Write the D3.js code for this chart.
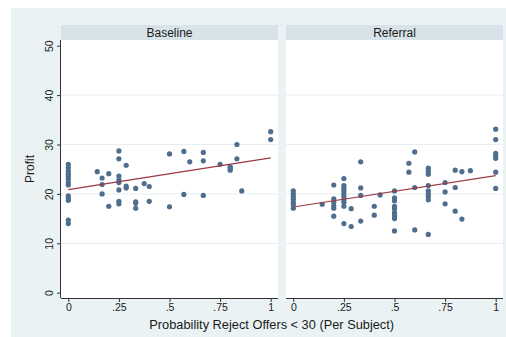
<!DOCTYPE html>
<html>
<head>
<meta charset="utf-8">
<script src="https://cdn.jsdelivr.net/npm/d3@7"></script>
<style>
  html, body { margin: 0; padding: 0; background: #ffffff; }
  svg { display: block; }
  text { font-family: "Liberation Sans", Arial, sans-serif; fill: #1a1a1a; }
</style>
</head>
<body>
<svg id="chart" width="506" height="337"></svg>
<script>
// Panels (one per treatment group)
const panels = ["Baseline", "Referral"];

// Baseline: share of offers < 30 rejected (x) and profit (y), one pair per subject
const baselineX = [
  0, 0, 0, 0, 0, 0, 0, 0, 0, 0, 0, 0, 0,
  0.143,
  0.167, 0.167, 0.167,
  0.2, 0.2,
  0.25, 0.25, 0.25, 0.25, 0.25, 0.25, 0.25, 0.25,
  0.286, 0.286, 0.286,
  0.333, 0.333, 0.333, 0.333,
  0.375,
  0.4, 0.4,
  0.5, 0.5,
  0.571, 0.571,
  0.6,
  0.667, 0.667, 0.667,
  0.75,
  0.8, 0.8, 0.8,
  0.833, 0.833,
  0.857,
  1, 1
];
const baselineProfit = [
  26.0, 25.3, 24.6, 24.0, 23.5, 23.0, 22.3, 21.8, 19.6, 19.1, 18.7, 14.7, 14.0,
  24.5,
  23.2, 21.9, 20.0,
  24.1, 17.5,
  28.7, 27.1, 23.6, 22.8, 22.3, 20.8, 18.5, 18.0,
  25.8, 21.6, 21.2,
  21.1, 18.4, 18.1, 17.1,
  22.1,
  21.5, 18.5,
  28.1, 17.4,
  28.6, 19.9,
  26.5,
  28.4, 26.7, 19.7,
  26.0,
  25.5, 25.2, 24.8,
  30.0, 27.1,
  20.6,
  32.6, 31.0
];

// Referral group
const referralX = [
  0, 0, 0, 0, 0, 0, 0,
  0.143,
  0.2, 0.2, 0.2, 0.2, 0.2, 0.2,
  0.25, 0.25, 0.25, 0.25, 0.25, 0.25, 0.25, 0.25, 0.25, 0.25,
  0.286, 0.286,
  0.333, 0.333, 0.333, 0.333,
  0.4, 0.4,
  0.429,
  0.5, 0.5, 0.5, 0.5, 0.5, 0.5, 0.5, 0.5, 0.5,
  0.571, 0.571,
  0.6, 0.6, 0.6,
  0.667, 0.667, 0.667, 0.667, 0.667, 0.667, 0.667, 0.667, 0.667,
  0.75, 0.75, 0.75,
  0.8, 0.8, 0.8,
  0.833, 0.833,
  0.875,
  1, 1, 1, 1, 1, 1, 1
];
const referralProfit = [
  20.6, 20.0, 19.4, 18.9, 18.3, 17.8, 17.1,
  17.9,
  21.8, 19.0, 18.3, 17.6, 17.1, 15.5,
  23.1, 21.7, 21.1, 20.6, 20.0, 19.4, 18.8, 18.3, 17.5, 14.0,
  17.0, 13.4,
  26.5, 21.2, 19.7, 14.5,
  17.5, 15.7,
  19.8,
  20.6, 19.2, 18.6, 17.5, 17.0, 16.2, 15.6, 15.0, 12.5,
  26.2, 24.4,
  28.5, 21.3, 12.7,
  25.2, 24.6, 24.0, 21.7, 20.6, 20.0, 19.5, 18.8, 11.8,
  22.3, 20.4, 18.0,
  24.8, 21.3, 16.5,
  24.5, 14.9,
  24.7,
  33.1, 31.0, 28.2, 27.7, 27.2, 24.4, 21.1
];

// Fitted linear trend per panel: predicted profit at x = 0 and x = 1
const fitAtZero = [20.85, 17.35];
const fitAtOne = [27.3, 23.7];

// Axis ticks
const xTicks = [0, 0.25, 0.5, 0.75, 1];
const xTickLabels = ["0", ".25", ".5", ".75", "1"];
const yTicks = [0, 10, 20, 30, 40, 50];
const gridTicks = [10, 20, 30, 40];

// ---- layout ----
const svg = d3.select("#chart");
const colors = {
  outer: "#eaf2f3",
  strip: "#d7e3e8",
  grid: "#e6eef1",
  marker: "#4f6d8e",
  fit: "#9c3a43",
  axis: "#333333"
};

const panelLeft = [61, 286];
const panelWidth = 217;
const plotTop = 40;
const plotBottom = 298;
const stripTop = 25;

svg.append("rect")
  .attr("x", 11).attr("y", 8)
  .attr("width", 495).attr("height", 329)
  .attr("fill", colors.outer);

const y = d3.scaleLinear().domain([0, 50]).range([292.7, 45.7]);

const groups = [
  { x: baselineX, p: baselineProfit },
  { x: referralX, p: referralProfit }
];

panels.forEach((name, i) => {
  const left = panelLeft[i];
  const x = d3.scaleLinear().domain([0, 1]).range([left + 7.3, left + panelWidth - 7.3]);

  // title strip
  svg.append("rect")
    .attr("x", left).attr("y", stripTop)
    .attr("width", panelWidth).attr("height", plotTop - stripTop)
    .attr("fill", colors.strip);
  svg.append("text")
    .attr("x", left + panelWidth / 2).attr("y", stripTop + 7.5)
    .attr("dy", "0.35em")
    .attr("text-anchor", "middle")
    .attr("font-size", 12)
    .text(name);

  // plot region
  svg.append("rect")
    .attr("x", left).attr("y", plotTop)
    .attr("width", panelWidth).attr("height", plotBottom - plotTop)
    .attr("fill", "#ffffff");

  // horizontal grid
  svg.append("g")
    .selectAll("line")
    .data(gridTicks)
    .join("line")
    .attr("x1", left).attr("x2", left + panelWidth)
    .attr("y1", d => y(d)).attr("y2", d => y(d))
    .attr("stroke", colors.grid)
    .attr("stroke-width", 1);

  // x axis
  const xAxis = d3.axisBottom(x)
    .tickValues(xTicks)
    .tickFormat((d, k) => xTickLabels[k])
    .tickSize(4)
    .tickSizeOuter(0)
    .tickPadding(2);
  const gx = svg.append("g")
    .attr("transform", `translate(0,${plotBottom})`)
    .call(xAxis);
  gx.select(".domain")
    .attr("d", `M${left},0.5H${left + panelWidth}`)
    .attr("stroke", colors.axis);
  gx.selectAll(".tick line").attr("stroke", colors.axis);
  gx.selectAll(".tick text")
    .attr("font-family", "Liberation Sans, Arial, sans-serif")
    .attr("font-size", 10.5)
    .attr("fill", "#1a1a1a");

  // scatter points
  const pts = groups[i].x.map((v, k) => [v, groups[i].p[k]]);
  svg.append("g")
    .selectAll("circle")
    .data(pts)
    .join("circle")
    .attr("cx", d => x(d[0]))
    .attr("cy", d => y(d[1]))
    .attr("r", 2.6)
    .attr("fill", colors.marker);

  // linear fit
  const line = d3.line().x(d => x(d[0])).y(d => y(d[1]));
  svg.append("path")
    .datum([[0, fitAtZero[i]], [1, fitAtOne[i]]])
    .attr("d", line)
    .attr("fill", "none")
    .attr("stroke", colors.fit)
    .attr("stroke-width", 1.2);
});

// y axis (left panel only)
const yAxis = d3.axisLeft(y).tickValues(yTicks).tickSize(4).tickSizeOuter(0).tickFormat(d3.format("d"));
const gy = svg.append("g")
  .attr("transform", `translate(${panelLeft[0]},0)`)
  .call(yAxis);
gy.select(".domain")
  .attr("d", `M-0.5,${plotTop}V${plotBottom}`)
  .attr("stroke", colors.axis);
gy.selectAll(".tick line").attr("stroke", colors.axis);
gy.selectAll(".tick text")
  .attr("font-family", "Liberation Sans, Arial, sans-serif")
  .attr("font-size", 10.5)
  .attr("fill", "#1a1a1a")
  .attr("x", null).attr("dy", null)
  .attr("text-anchor", "middle")
  .attr("transform", "translate(-8.5,0) rotate(-90)");

// axis titles
svg.append("text")
  .attr("transform", `translate(34.3,${(plotTop + plotBottom) / 2}) rotate(-90)`)
  .attr("text-anchor", "middle")
  .attr("font-size", 12)
  .text("Profit");

svg.append("text")
  .attr("x", 271.7).attr("y", 328.5)
  .attr("text-anchor", "middle")
  .attr("font-size", 12.8)
  .text("Probability Reject Offers < 30 (Per Subject)");
</script>
</body>
</html>
